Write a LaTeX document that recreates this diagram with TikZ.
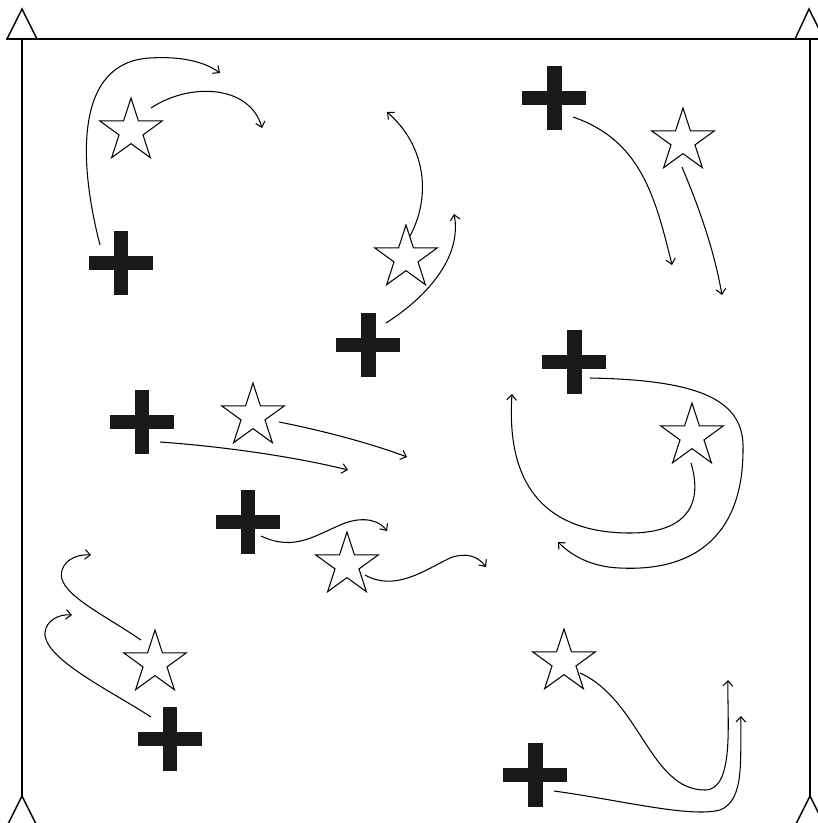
\documentclass[tikz,border=0pt]{standalone}
\usetikzlibrary{arrows,arrows.meta,shapes,calc}
\tikzstyle{pcross}=[circle,minimum size=1.34cm,inner sep=0pt,path picture={
  \fill[black!90] ([xshift=-0.64cm,yshift=-0.14cm]path picture bounding box.center) rectangle ++(1.28cm,0.28cm);
  \fill[black!90] ([xshift=-0.15cm,yshift=-0.64cm]path picture bounding box.center) rectangle ++(0.3cm,1.28cm);}]
\tikzstyle{pstar}=[star,star points=5,star point ratio=2.618,minimum size=1.32cm,inner sep=0pt,draw,line width=0.6pt]
\tikzstyle{mv}=[->,>={Straight Barb[length=3pt,width=5.5pt]},line width=0.6pt]
\tikzstyle{frm}=[line width=0.8pt]

\begin{document}
\begin{tikzpicture}[x=0.02cm,y=-0.02cm]
\useasboundingbox (0,0) rectangle (818,823);
\clip (0,0) rectangle (818,823);
% field
\draw[frm] (6,39)--(818,39);\draw[frm] (22,39)--(22,796);\draw[frm] (810,39)--(810,796);
\draw[frm] (7,39)--(22,9)--(37,39);\draw[frm] (795,39)--(809,9)--(824,39);
\draw[frm] (7,826)--(22,796)--(37,826);\draw[frm] (795,826)--(810,796)--(825,826);
% players
\node[pcross] (c1) at (121,263) {};
\node[pcross] (c2) at (554,98) {};
\node[pcross] (c3) at (368,345) {};
\node[pcross] (c4) at (574,362) {};
\node[pcross] (c5) at (142,422) {};
\node[pcross] (c6) at (248,522) {};
\node[pcross] (c7) at (170,739) {};
\node[pcross] (c8) at (535,775) {};
\node[pstar] (s1) at (131,131) {};
\node[pstar] (s2) at (406,258) {};
\node[pstar] (s3) at (683,141) {};
\node[pstar] (s4) at (692,436) {};
\node[pstar] (s5) at (253,416) {};
\node[pstar] (s6) at (347,565) {};
\node[pstar] (s7) at (155,663) {};
\node[pstar] (s8) at (564,662) {};
% run ends
\coordinate (e1) at (220,73);\coordinate (e2) at (262,128);\coordinate (e3) at (387,112);\coordinate (e4) at (454,214);
\coordinate (e5) at (672,265);\coordinate (e6) at (722,295);\coordinate (e7) at (558,542);\coordinate (e8) at (512,394);
\coordinate (e9) at (348,470);\coordinate (e10) at (407,457);\coordinate (e11) at (387,531);\coordinate (e12) at (486,567);
\coordinate (e13) at (91,555);\coordinate (e14) at (72,615);\coordinate (e15) at (728,680);\coordinate (e16) at (741,716);
% runs
\draw[mv] ($(c1)+(-21,-18)$) .. controls (78,160) and (75,62) .. (150,58) .. controls (182,56) and (205,62) .. (e1);
\draw[mv] ($(s1)+(20,-23)$) .. controls (190,82) and (250,85) .. (e2);
\draw[mv] ($(s2)+(4,-22)$) .. controls (432,195) and (425,145) .. (e3);
\draw[mv] ($(c3)+(18,-22)$) .. controls (430,295) and (462,255) .. (e4);
\draw[mv] ($(c2)+(19,19)$) .. controls (640,140) and (655,195) .. (e5);
\draw[mv] ($(s3)+(-1,26)$) .. controls (700,210) and (714,250) .. (e6);
\draw[mv] ($(c4)+(16,16)$) .. controls (700,380) and (745,400) .. (743,450) .. controls (743,530) and (700,572) .. (620,568) .. controls (592,567) and (572,556) .. (e7);
\draw[mv] ($(s4)+(-1,27)$) .. controls (705,510) and (680,533) .. (630,533) .. controls (560,533) and (505,500) .. (e8);
\draw[mv] ($(c5)+(18,20)$) .. controls (230,447) and (300,458) .. (e9);
\draw[mv] ($(s5)+(26,6)$) .. controls (320,430) and (370,443) .. (e10);
\draw[mv] ($(c6)+(13,14)$) .. controls (295,552) and (315,535) .. (345,523) .. controls (365,516) and (380,521) .. (e11);
\draw[mv] ($(s6)+(18,10)$) .. controls (395,592) and (425,570) .. (450,558) .. controls (465,552) and (478,556) .. (e12);
\draw[mv] ($(s7)+(-14,-23)$) .. controls (100,612) and (55,592) .. (62,570) .. controls (66,558) and (80,554) .. (e13);
\draw[mv] ($(c7)+(-19,-22)$) .. controls (110,690) and (35,655) .. (46,628) .. controls (50,618) and (62,614) .. (e14);
\draw[mv] ($(s8)+(16,11)$) .. controls (640,700) and (650,790) .. (705,790) .. controls (735,790) and (727,720) .. (e15);
\draw[mv] ($(c8)+(19,16)$) .. controls (620,800) and (690,818) .. (720,810) .. controls (745,800) and (740,760) .. (e16);
\end{tikzpicture}
\end{document}
